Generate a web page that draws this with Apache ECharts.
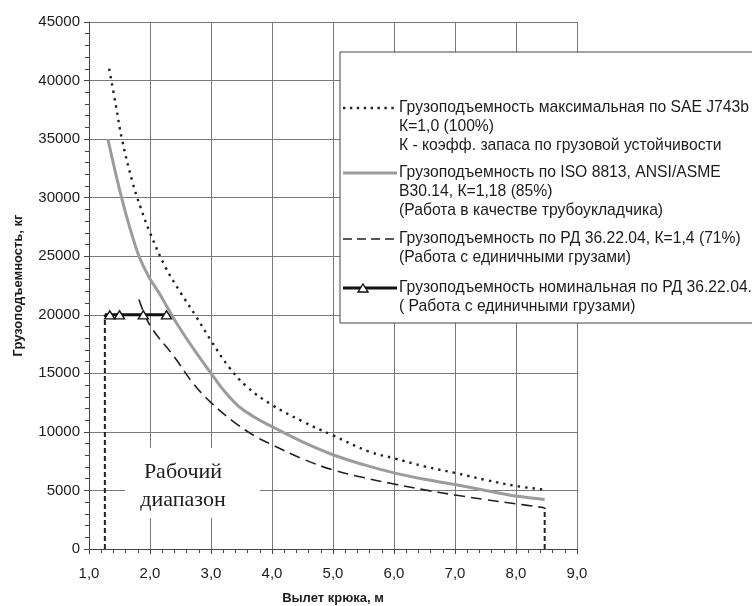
<!DOCTYPE html>
<html>
<head>
<meta charset="utf-8">
<script src="https://cdn.jsdelivr.net/npm/echarts@6/dist/echarts.min.js"></script>
<style>
html,body{margin:0;padding:0;background:#fff;}
#chart{width:752px;height:606px;}
</style>
</head>
<body>
<div id="chart"></div>
<script>
// ---- data ----
const xTicks = [1, 2, 3, 4, 5, 6, 7, 8, 9];
const xTickLabels = ['1,0', '2,0', '3,0', '4,0', '5,0', '6,0', '7,0', '8,0', '9,0'];
const yTicks = [0, 5000, 10000, 15000, 20000, 25000, 30000, 35000, 40000, 45000];

// SAE J743b, K=1.0 (dotted)
const saeX = [1.33, 1.44, 1.54, 1.72, 1.85, 2.0, 2.25, 2.5, 2.75, 3.0, 3.3, 3.6, 4.0, 4.5, 5.0, 5.6, 6.0, 6.5, 7.0, 7.5, 8.0, 8.44];
const saeY = [41000, 37900, 35000, 31200, 29100, 27000, 24100, 21900, 19900, 17800, 15500, 13800, 12300, 10900, 9700, 8300, 7750, 7050, 6500, 5900, 5380, 5090];

// ISO 8813, K=1.18 (solid gray)
const isoX = [1.31, 1.4, 1.5, 1.6, 1.7, 1.82, 1.98, 2.15, 2.31, 2.47, 2.7, 3.0, 3.2, 3.45, 3.7, 4.0, 4.5, 5.0, 5.5, 6.0, 6.5, 7.0, 7.5, 8.0, 8.47];
const isoY = [35000, 32900, 30700, 28700, 26900, 25000, 23250, 21850, 20400, 19000, 17200, 15000, 13600, 12200, 11300, 10450, 9150, 8050, 7200, 6500, 5950, 5500, 5000, 4520, 4230];

// RD 36.22.04, K=1.4 (dashed)
const rdX = [1.82, 2.0, 2.4, 2.7, 3.0, 3.4, 3.75, 4.0, 4.5, 5.0, 5.5, 6.0, 6.5, 7.0, 7.5, 8.0, 8.47];
const rdY = [21300, 19100, 16400, 14200, 12500, 10750, 9550, 8900, 7700, 6750, 6100, 5550, 5050, 4610, 4220, 3860, 3520];

// nominal RD 36.22.04 (black with triangles)
const nomX = [1.26, 1.34, 1.5, 1.89, 2.27];
const nomY = [20000, 20000, 20000, 20000, 20000];
const nomMarked = [false, true, true, true, true];

// working range boundaries (vertical short-dashed lines)
const rangeX = [1.26, 8.47];
const rangeTop = [20000, 3520];

const legendEntries = [
  ['Грузоподъемность максимальная по SAE J743b', 'К=1,0 (100%)', 'К - коэфф. запаса по грузовой устойчивости'],
  ['Грузоподъемность по ISO 8813, ANSI/ASME', 'B30.14, К=1,18 (85%)', '(Работа в качестве трубоукладчика)'],
  ['Грузоподъемность по РД 36.22.04, К=1,4 (71%)', '(Работа с единичными грузами)'],
  ['Грузоподъемность номинальная по РД 36.22.04.', '( Работа с единичными грузами)']
];
const areaLabel = ['Рабочий', 'диапазон'];
const xName = 'Вылет крюка, м';
const yName = 'Грузоподъемность, кг';

// ---- build ----
const zip = (xs, ys) => xs.map((x, i) => [x, ys[i]]);
const SANS = "'Liberation Sans', Arial, sans-serif";
const ink = '#1c1c1c';

const series = [
  {
    name: legendEntries[0][0], type: 'line', data: zip(saeX, saeY), smooth: 0.4, showSymbol: false,
    lineStyle: { color: '#222', width: 2.4, type: [2.4, 5] }, z: 3
  },
  {
    name: legendEntries[1][0], type: 'line', data: zip(isoX, isoY), smooth: 0.4, showSymbol: false,
    lineStyle: { color: '#9c9c9c', width: 3 }, z: 3
  },
  {
    name: legendEntries[2][0], type: 'line', data: zip(rdX, rdY), smooth: 0.4, showSymbol: false,
    lineStyle: { color: '#222', width: 1.6, type: [11, 6] }, z: 3
  },
  {
    name: legendEntries[3][0], type: 'line',
    data: nomX.map((x, i) => nomMarked[i] ? [x, nomY[i]] : { value: [x, nomY[i]], symbol: 'none' }),
    symbol: 'triangle', symbolSize: [10, 8], showAllSymbol: true,
    itemStyle: { color: '#fff', borderColor: '#111', borderWidth: 1.4 },
    lineStyle: { color: '#111', width: 3 }, z: 4
  }
];
rangeX.forEach((x, i) => {
  series.push({
    type: 'line', data: [[x, 0], [x, rangeTop[i]]], showSymbol: false, silent: true,
    lineStyle: { color: '#222', width: 2, type: [5, 3] }, z: 3
  });
});

// legend (drawn as graphic so that the sample sits on the first text line)
const lgX = 340, lgY = 52, lgW = 430, lgH = 271;
const entryY = [108, 173, 239, 288];
const lineH = 19;
const graphics = [
  { type: 'rect', shape: { x: lgX, y: lgY, width: lgW, height: lgH }, style: { fill: '#fff', stroke: '#444', lineWidth: 1 }, z: 10 }
];
const sampleStyles = [
  { stroke: '#222', lineWidth: 2.4, lineDash: [2.4, 4.5] },
  { stroke: '#9c9c9c', lineWidth: 3 },
  { stroke: '#222', lineWidth: 1.6, lineDash: [9, 5] },
  { stroke: '#111', lineWidth: 3 }
];
legendEntries.forEach((lines, k) => {
  graphics.push({ type: 'line', shape: { x1: 343, y1: entryY[k], x2: 397, y2: entryY[k] }, style: sampleStyles[k], z: 11 });
  lines.forEach((t, j) => {
    graphics.push({
      type: 'text', x: 399, y: entryY[k] + j * lineH, z: 11,
      style: { text: t, fill: ink, font: '15.7px ' + SANS, textVerticalAlign: 'middle', textAlign: 'left' }
    });
  });
});
graphics.push({
  type: 'polygon', z: 12,
  shape: { points: [[363, 284], [368, 292], [358, 292]] },
  style: { fill: '#fff', stroke: '#111', lineWidth: 1.4 }
});
// "Рабочий диапазон" label with white background
graphics.push({ type: 'rect', shape: { x: 125, y: 448, width: 135, height: 70 }, style: { fill: '#fff' }, z: 1 });
areaLabel.forEach((t, j) => {
  graphics.push({
    type: 'text', x: 183, y: 472 + j * 28, z: 2,
    style: { text: t, fill: ink, font: "22px 'Liberation Serif', 'Times New Roman', serif", textAlign: 'center', textVerticalAlign: 'middle' }
  });
});

const chart = echarts.init(document.getElementById('chart'), null, { renderer: 'canvas' });
chart.setOption({
  backgroundColor: '#fff',
  animation: false,
  grid: { left: 89, right: 175, top: 22, bottom: 57, containLabel: false, outerBoundsMode: 'none' },
  xAxis: {
    type: 'value', min: xTicks[0], max: xTicks[xTicks.length - 1], interval: 1,
    name: xName, nameLocation: 'middle', nameGap: 43,
    nameTextStyle: { fontFamily: SANS, fontWeight: 'bold', fontSize: 13, color: ink },
    axisLine: { lineStyle: { color: '#444', width: 1 } },
    axisTick: { show: true, length: 5, lineStyle: { color: '#444' } },
    minorTick: { show: true, splitNumber: 5, length: 4, lineStyle: { color: '#444' } },
    splitLine: { show: true, lineStyle: { color: '#7a7a7a', width: 1 } },
    axisLabel: {
      margin: 17, fontFamily: SANS, fontSize: 15, color: ink,
      formatter: v => xTickLabels[xTicks.indexOf(Math.round(v))] || ''
    }
  },
  yAxis: {
    type: 'value', min: yTicks[0], max: yTicks[yTicks.length - 1], interval: 5000,
    name: yName, nameLocation: 'middle', nameGap: 64, nameRotate: 90,
    nameTextStyle: { fontFamily: SANS, fontWeight: 'bold', fontSize: 13, color: ink },
    axisLine: { show: true, lineStyle: { color: '#444', width: 1 } },
    axisTick: { show: true, length: 5, lineStyle: { color: '#444' } },
    minorTick: { show: true, splitNumber: 5, length: 4, lineStyle: { color: '#444' } },
    splitLine: { show: true, lineStyle: { color: '#7a7a7a', width: 1 } },
    axisLabel: {
      margin: 9, fontFamily: SANS, fontSize: 15, color: ink,
      formatter: v => String(yTicks[yTicks.indexOf(v)] ?? '')
    }
  },
  series: series,
  graphic: graphics
});
</script>
</body>
</html>
